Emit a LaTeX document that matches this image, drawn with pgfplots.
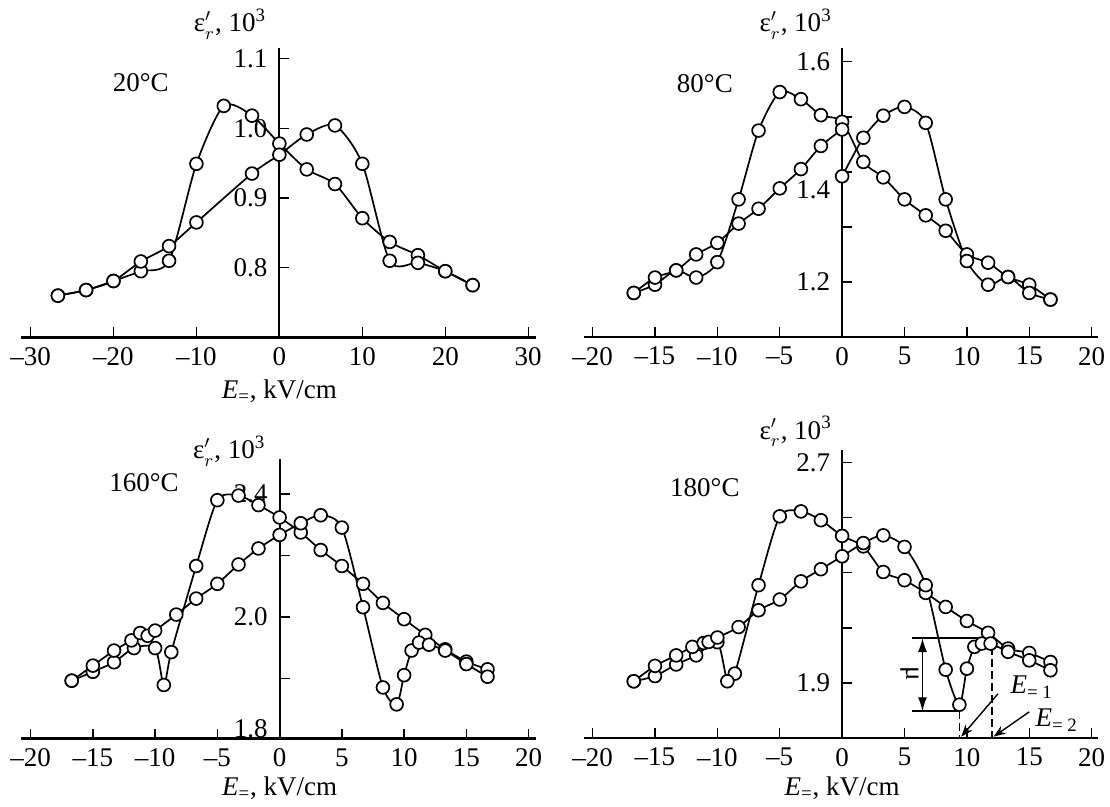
\documentclass[border=0pt]{standalone}
\usepackage{pgfplots}
\pgfplotsset{compat=1.18}
\usepackage{fontspec}
\setmainfont{Liberation Serif}
\usetikzlibrary{arrows.meta}

\pgfplotsset{
  panel/.style={
    scale only axis, anchor=south west, clip=false,
    axis x line=bottom, axis y line=middle,
    axis line style={-, line width=1.1pt},
    tick style={black, line width=0.7pt},
    major tick length=5pt,
    xtick align=inside, ytick align=inside,
    xticklabel style={yshift=-1.5pt},
    yticklabel style={xshift=-2.5pt},
  },
  dat/.style={smooth, tension=0.45, black, line width=0.85pt,
    mark=*, mark size=3.2pt, mark options={fill=white, line width=0.85pt}},
}
\tikzset{lab/.style={anchor=base east, inner sep=0pt}}
\newcommand{\eps}{ε$'_r$, 10\textsuperscript{3}}
\newcommand{\Elab}{\textit{E}\textsubscript{=}, kV/cm}

\begin{document}
\begin{tikzpicture}[font=\fontsize{13.5}{15}\selectfont]
\useasboundingbox (0pt,0pt) rectangle (555pt,-403.5pt);

% 20 C
\begin{axis}[panel, at={(10.7pt,-168.75pt)}, width=257.15pt, height=144.75pt,
  xmin=-31.1, xmax=30.9, ymin=0.7, ymax=1.115,
  xtick={-30,-20,-10,0,10,20,30}, xticklabels={–30,–20,–10,0,10,20,30},
  ytick={0.8,0.9,1.0,1.1}, yticklabels={0.8,0.9,1.0,1.1}]
  \addplot[dat] coordinates {(23.3,0.775) (20.0,0.795) (16.7,0.818) (13.3,0.837) (10.0,0.871)
    (6.7,0.920) (3.3,0.941) (0,0.978) (-3.3,1.018) (-6.7,1.032) (-10.0,0.949) (-13.3,0.810)
    (-16.7,0.795) (-20.0,0.781) (-23.3,0.768) (-26.7,0.760)};
  \addplot[dat] coordinates {(-26.7,0.760) (-23.3,0.768) (-20.0,0.781) (-16.7,0.809) (-13.3,0.831)
    (-10.0,0.865) (-3.3,0.935) (0,0.962) (3.3,0.991) (6.7,1.004) (10.0,0.949) (13.3,0.810)
    (16.7,0.807) (20.0,0.795) (23.3,0.775)};
  \node[lab, xshift=-6.5pt, yshift=8pt] at (axis cs:0,1.115) {\eps};
  \node at (axis cs:-16.7,1.065) {20°C};
  \node[anchor=base, yshift=-30.5pt] at (axis cs:0,0.7) {\Elab};
\end{axis}

% 80 C
\begin{axis}[panel, at={(292pt,-168.5pt)}, width=257pt, height=144.5pt,
  xmin=-20.69, xmax=20.51, ymin=1.1, ymax=1.625,
  xtick={-20,-15,-10,-5,0,5,10,15,20}, xticklabels={–20,–15,–10,–5,0,5,10,15,20},
  ytick={1.2,1.3,1.4,1.5,1.6}, yticklabels={1.2,,,,1.6},
  extra y ticks={1.367}, extra y tick labels={1.4},
  extra y tick style={major tick length=0pt}]
  \addplot[dat] coordinates {(16.7,1.168) (15.0,1.195) (13.3,1.209) (11.7,1.235) (10.0,1.250)
    (8.3,1.293) (6.7,1.321) (5.0,1.350) (3.3,1.390) (1.7,1.418) (0,1.491) (-1.7,1.503)
    (-3.3,1.532) (-5.0,1.545) (-6.7,1.475) (-8.3,1.350) (-10.0,1.236) (-11.7,1.208)
    (-13.3,1.221) (-15.0,1.195) (-16.7,1.180)};
  \addplot[dat] coordinates {(-16.7,1.180) (-15.0,1.208) (-13.3,1.221) (-11.7,1.250) (-10.0,1.271)
    (-8.3,1.306) (-6.7,1.333) (-5.0,1.370) (-3.3,1.405) (-1.7,1.447) (0,1.477)};
  \addplot[dat] coordinates {(0,1.392) (1.7,1.462) (3.3,1.502) (5.0,1.518) (6.7,1.489) (8.3,1.350)
    (10.0,1.238) (11.7,1.195) (13.3,1.209) (15.0,1.180) (16.7,1.168)};
  \node[lab, xshift=-5pt, yshift=8pt] at (axis cs:0,1.625) {\eps};
  \node at (axis cs:-11.0,1.56) {80°C};
\end{axis}

% 160 C
\begin{axis}[panel, at={(10.7pt,-369.25pt)}, width=257.15pt, height=139.75pt,
  xmin=-20.74, xmax=20.57, ymin=1.605, ymax=2.514,
  xtick={-20,-15,-10,-5,0,5,10,15,20}, xticklabels={–20,–15,–10,–5,0,5,10,15,20},
  ytick={1.8,2.0,2.2,2.4}, yticklabels={,2.0,,2.4},
  extra y ticks={1.638}, extra y tick labels={1.8},
  extra y tick style={major tick length=0pt}]
  \addplot[dat] coordinates {(16.7,1.830) (15.0,1.855) (13.3,1.895) (11.7,1.942) (10.0,1.993)
    (8.3,2.046) (6.7,2.108) (5.0,2.166) (3.3,2.218) (1.7,2.275) (0,2.324) (-1.7,2.364)
    (-3.3,2.395) (-5.0,2.380) (-6.7,2.166) (-8.7,1.886) (-9.3,1.779) (-10.0,1.899)
    (-11.7,1.899) (-13.3,1.853) (-15.0,1.822) (-16.7,1.793)};
  \addplot[dat] coordinates {(-16.7,1.793) (-15.0,1.842) (-13.3,1.891) (-11.9,1.924) (-11.2,1.948)
    (-10.6,1.939) (-10.0,1.956) (-8.3,2.008) (-6.7,2.060) (-5.0,2.108) (-3.3,2.171)
    (-1.7,2.223) (0,2.267) (1.7,2.305) (3.3,2.331) (5.0,2.291) (6.7,2.032) (8.3,1.771)
    (9.4,1.716) (10.0,1.811) (10.6,1.891) (11.2,1.917) (12.0,1.910) (13.3,1.891)
    (15.0,1.847) (16.7,1.806)};
  \node[lab, xshift=-7pt, yshift=0pt] at (axis cs:0,2.514) {\eps};
  \node at (axis cs:-10.9,2.436) {160°C};
  \node[anchor=base, yshift=-28.5pt] at (axis cs:0,1.605) {\Elab};
\end{axis}

% 180 C
\begin{axis}[panel, at={(292pt,-369pt)}, width=257pt, height=144pt,
  xmin=-20.69, xmax=20.51, ymin=1.7, ymax=2.746,
  xtick={-20,-15,-10,-5,0,5,10,15,20}, xticklabels={–20,–15,–10,–5,0,5,10,15,20},
  ytick={1.9,2.1,2.3,2.5,2.7}, yticklabels={1.9,,,,2.7}]
  \addplot[dat] coordinates {(16.7,1.976) (15.0,2.009) (13.3,2.025) (11.7,2.082) (10.0,2.125)
    (8.3,2.176) (6.7,2.227) (5.0,2.273) (3.3,2.303) (1.7,2.396) (0,2.434) (-1.7,2.491)
    (-3.3,2.523) (-5.0,2.505) (-6.7,2.255) (-8.6,1.934) (-9.2,1.906) (-10.0,2.048)
    (-11.7,2.000) (-13.3,1.967) (-15.0,1.925) (-16.7,1.906)};
  \addplot[dat] coordinates {(-16.7,1.906) (-15.0,1.962) (-13.3,2.000) (-12.0,2.031) (-11.1,2.045)
    (-10.7,2.049) (-10.0,2.065) (-8.3,2.103) (-6.7,2.164) (-5.0,2.203) (-3.3,2.269)
    (-1.7,2.313) (0,2.360) (1.7,2.408) (3.3,2.436) (5.0,2.394) (6.7,2.255) (8.3,1.948)
    (9.4,1.821) (10.0,1.952) (10.6,2.031) (11.2,2.043) (11.9,2.043) (13.3,2.013)
    (15.0,1.982) (16.7,1.946)};
  \node[lab, xshift=-5pt, yshift=5.5pt] at (axis cs:0,2.746) {\eps};
  \node at (axis cs:-11.0,2.611) {180°C};
  \node[anchor=base, yshift=-28.5pt] at (axis cs:0,1.7) {\Elab};
  % mu annotation
  \draw[line width=1.1pt] (axis cs:5.6,2.063) -- (axis cs:12.07,2.063);
  \draw[line width=1.1pt] (axis cs:5.6,1.797) -- (axis cs:9.4,1.797);
  \draw[{Latex[length=7pt,width=4.5pt]}-{Latex[length=7pt,width=4.5pt]}, line width=0.7pt]
    (axis cs:6.44,2.063) -- (axis cs:6.44,1.797);
  \node[rotate=-90] at (axis cs:5.4,1.934) {μ};
  \draw[dash pattern=on 4pt off 2pt, line width=0.7pt] (axis cs:9.4,1.797) -- (axis cs:9.4,1.7);
  \draw[dash pattern=on 4pt off 2pt, line width=0.7pt] (axis cs:12.0,2.03) -- (axis cs:12.0,1.7);
  \draw[-{Stealth[length=6pt]}, line width=0.7pt] (axis cs:12.5,1.861) -- (axis cs:9.55,1.705);
  \draw[-{Stealth[length=6pt]}, line width=0.7pt] (axis cs:15.0,1.795) -- (axis cs:12.15,1.705);
  \node at (axis cs:15.2,1.885) {\textit{E}\textsubscript{= 1}};
  \node at (axis cs:17.2,1.765) {\textit{E}\textsubscript{= 2}};
\end{axis}
\end{tikzpicture}
\end{document}
